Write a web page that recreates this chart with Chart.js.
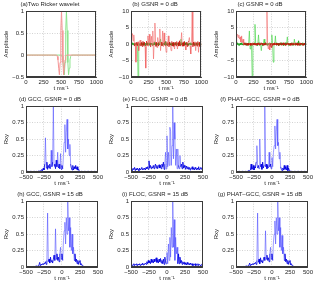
<!DOCTYPE html>
<html>
<head>
<meta charset="utf-8">
<script src="https://cdn.jsdelivr.net/npm/chart.js@4.4.0/dist/chart.umd.min.js"></script>
<style>
html, body { margin: 0; padding: 0; background: #fff; }
#fig { position: relative; width: 320px; height: 286px; overflow: hidden; }
#fig canvas { position: absolute; }
</style>
</head>
<body>
<div id="fig">
<canvas id="pa" width="105" height="95" style="left:0px;top:0px"></canvas>
<canvas id="pb" width="105" height="95" style="left:105px;top:0px"></canvas>
<canvas id="pc" width="105" height="95" style="left:210px;top:0px"></canvas>
<canvas id="pd" width="105" height="95" style="left:0px;top:95px"></canvas>
<canvas id="pe" width="105" height="95" style="left:105px;top:95px"></canvas>
<canvas id="pf" width="105" height="95" style="left:210px;top:95px"></canvas>
<canvas id="ph" width="105" height="95" style="left:0px;top:190px"></canvas>
<canvas id="pi" width="105" height="95" style="left:105px;top:190px"></canvas>
<canvas id="pg" width="105" height="95" style="left:210px;top:190px"></canvas>
</div>
<script>
"use strict";

// ---- tick values / labels
var timeTicks = [0, 250, 500, 750, 1000];
var timeTickLabels = ["0", "250", "500", "750", "1000"];
var lagTicks = [-500, -250, 0, 250, 500];
var lagTickLabels = ["\u2212500", "\u2212250", "0", "250", "500"];
var wavTicks = [-0.5, 0, 0.5, 1];
var wavTickLabels = ["\u22120.5", "0", "0.5", "1"];
var ampTicks = [-10, -5, 0, 5, 10];
var ampTickLabels = ["\u221210", "\u22125", "0", "5", "10"];
var rxyTicks = [0, 0.25, 0.5, 0.75, 1];
var rxyTickLabels = ["0", "0.25", "0.5", "0.75", "1"];

// ---- (a) two Ricker wavelets
var rickerRedT = [0, 435, 445, 455, 465, 475, 485, 495, 505, 515, 525, 535, 545, 555, 565, 575, 1000];
var rickerRedY = [0, 0, -0.03, -0.11, -0.30, -0.45, -0.17, 0.56, 1, 0.56, -0.17, -0.45, -0.30, -0.11, -0.03, 0, 0];
var rickerGreenT = [0, 505, 515, 525, 535, 545, 555, 565, 575, 585, 595, 605, 615, 625, 635, 645, 1000];
var rickerGreenY = [0, 0, -0.03, -0.11, -0.30, -0.45, -0.17, 0.56, 1, 0.56, -0.17, -0.45, -0.30, -0.11, -0.03, 0, 0];

// ---- (b), (c) noisy records, sampled every 10 ms from 0 to 1000
var noisyB_red = [
    0.5, 2.5, 3.2, 1.0, 2.8, -0.6, 0.4, -5.5, 0.6, -0.5,
    0.7, -2.0, 0.5, 1.2, -0.6, 0.5, -0.7, 0.8, -0.4, 0.6,
    -0.8, -7.3, 0.9, -0.5, 2.5, -0.6, 3.0, 0.5, -0.9, 2.4,
    -0.5, 4.0, -4.5, 0.8, 6.4, -0.7, 0.6, -1.0, 2.0, -0.6,
    0.7, 4.6, -2.0, 0.6, -0.5, 4.0, -0.8, 3.4, 0.5, -0.6,
    -2.5, 0.7, -0.5, 2.5, -0.8, 0.6, -0.4, -2.0, 0.8, -0.6,
    0.5, -0.7, -1.5, 0.6, -0.5, 0.8, -1.5, 0.5, -0.6, 1.0,
    -0.5, 0.6, 3.5, -0.7, 0.5, -0.6, 0.8, -0.5, -1.8, 0.6,
    -0.7, 0.5, 0.9, 2.0, -0.6, -3.0, 0.7, 10, -0.8, 0.6,
    -0.5, 0.7, -2.0, 0.5, -0.6, 0.8, -2.5, 0.6, -0.7, 0.5,
    -0.4
];
var noisyB_green = [
    0.2, -0.3, 0.4, -0.2, 0.3, -0.4, 0.2, -0.3, 0.3, -0.2,
    -10, 0.3, -0.4, 0.2, -0.3, 0.4, -0.2, 0.3, -0.3, 0.2,
    -0.4, 0.3, -0.2, 0.4, -0.3, 0.2, -0.3, 0.4, -0.2, 0.3,
    -0.4, 0.2, -0.3, 0.5, -0.2, 0.3, -0.4, 0.2, -0.3, 0.4,
    -0.2, 0.3, 1.5, -0.3, 0.2, -0.4, 0.3, -0.2, 0.4, 0.8,
    -0.3, 0.2, -0.4, 0.3, -0.2, 0.5, -0.3, 0.2, -0.4, 0.3,
    -0.2, 0.4, -0.3, 0.2, -0.3, 0.4, -0.2, 0.3, -0.4, 0.2,
    -0.3, 1.5, -0.2, 0.3, -0.4, 0.2, -0.3, 0.4, -0.2, 0.3,
    -0.3, 0.2, -0.4, 0.3, -0.2, 0.4, -0.3, 0.2, -0.3, 0.4,
    -0.2, 0.3, -0.4, 0.2, -0.3, 0.4, -0.2, 0.3, -0.3, 0.2,
    -0.2
];
var noisyC_red = [
    0.4, 2.5, 3.0, 2.0, 2.8, 1.5, 2.2, 0.6, 2.5, 0.4,
    1.5, -0.3, 0.3, -0.2, 0.4, -0.3, 0.2, -0.4, 0.3, -0.2,
    0.3, -0.4, 0.2, -0.3, 0.4, -0.2, 0.3, -0.3, 0.2, -0.4,
    0.3, -0.2, 0.4, -0.3, 0.2, -0.3, 0.4, -0.2, 0.3, -0.4,
    0.2, -0.3, 0.4, -0.2, 10, -0.3, -1.5, 0.3, -1.8, 0.2,
    -1.0, 0.3, -0.4, 0.2, -0.3, 0.4, -0.2, 0.3, -0.3, 0.2,
    -0.4, 0.3, -0.2, 0.4, -0.3, 0.2, -0.3, 0.4, -0.2, 0.3,
    -0.4, 0.2, -0.3, 0.4, -0.2, 0.3, -0.3, 0.2, -0.4, 0.3,
    -0.2, 0.4, -0.3, 0.2, -0.3, 0.4, -0.2, 0.3, -0.4, 0.2,
    -0.3, 0.4, -0.2, 0.3, -0.3, 0.2, -0.4, 0.3, -0.2, 0.4,
    -0.3
];
var noisyC_green = [
    0.3, -0.2, 0.4, -0.3, 0.2, -0.4, 0.3, -0.2, 0.4, -0.3,
    0.2, -0.3, 0.4, -0.2, 0.3, -0.4, 0.2, -0.3, 0.4, 4.0,
    -1.5, 0.3, -0.4, -10, 0.3, -0.2, 0.4, 6.0, -0.3, 0.2,
    -0.4, 0.3, 2.8, -0.2, 0.4, -0.3, -2.0, 0.2, -0.4, 0.3,
    1.5, -0.3, 0.4, -0.2, 0.3, -0.4, 0.2, -0.3, 0.4, -0.2,
    0.3, 2.8, -0.4, -5.5, 0.3, -0.2, 2.5, -0.3, 0.4, -0.2,
    0.3, -0.4, 0.2, -0.3, 0.4, -0.2, 0.3, -0.4, 0.2, -0.3,
    0.4, -0.2, 0.3, 2.2, -0.3, 0.2, -0.4, 0.3, -0.2, 0.4,
    -0.3, 0.2, -0.4, 1.5, -0.2, 0.3, -0.3, 0.4, -0.2, 1.0,
    -0.3, 0.2, -0.4, 0.3, -0.2, 0.4, -0.3, 0.2, -0.3, 0.4,
    -0.2
];

// ---- (d)-(g) cross-correlation, lag sampled every 10 ms from -500 to 500
var rxyGcc0 = [
    0.01, 0.005, 0.01, 0.005, 0.01, 0.005, 0.01, 0.005, 0.01, 0.005,
    0.01, 0.005, 0.01, 0.005, 0.01, 0.01, 0.005, 0.01, 0.02, 0.01,
    0.02, 0.01, 0.04, 0.02, 0.06, 0.03, 0.12, 0.52, 0.06, 0.15,
    0.04, 0.1, 0.06, 0.12, 0.05, 0.33, 0.08, 0.15, 1.0, 0.09,
    0.12, 0.05, 0.18, 0.08, 0.3, 0.06, 0.12, 0.05, 0.28, 0.04,
    0.1, 0.05, 0.25, 0.45, 0.72, 0.3, 0.6, 0.8, 0.35, 0.5,
    0.25, 0.42, 0.12, 0.06, 0.03, 0.1, 0.03, 0.08, 0.05, 0.1,
    0.04, 0.08, 0.03, 0.04, 0.01, 0.01, 0.005, 0.01, 0.005, 0.01,
    0.005, 0.01, 0.005, 0.01, 0.005, 0.01, 0.005, 0.01, 0.005, 0.01,
    0.005, 0.01, 0.005, 0.01, 0.005, 0.01, 0.005, 0.01, 0.005, 0.01,
    0.005
];
var rxyFloc0 = [
    0.03, 0.06, 0.02, 0.05, 0.04, 0.07, 0.02, 0.05, 0.03, 0.06,
    0.04, 0.02, 0.06, 0.03, 0.05, 0.07, 0.03, 0.05, 0.04, 0.06,
    0.03, 0.07, 0.05, 0.08, 0.04, 0.17, 0.06, 0.1, 0.05, 0.08,
    0.06, 0.1, 0.05, 0.09, 0.12, 0.06, 0.1, 0.05, 0.08, 0.11,
    0.06, 0.1, 0.05, 0.12, 0.08, 0.15, 0.04, 0.12, 0.3, 0.05,
    0.55, 0.08, 0.3, 0.1, 0.68, 0.62, 0.1, 0.4, 1.0, 0.2,
    0.75, 0.5, 0.1, 0.35, 0.05, 0.35, 0.1, 0.05, 0.25, 0.08,
    0.12, 0.05, 0.15, 0.06, 0.1, 0.07, 0.04, 0.09, 0.05, 0.08,
    0.04, 0.07, 0.03, 0.06, 0.05, 0.08, 0.04, 0.06, 0.03, 0.07,
    0.05, 0.03, 0.06, 0.04, 0.08, 0.03, 0.05, 0.07, 0.04, 0.06,
    0.05
];
var rxyPhat0 = [
    0.005, 0.01, 0.005, 0.01, 0.005, 0.01, 0.005, 0.01, 0.005, 0.01,
    0.005, 0.01, 0.005, 0.01, 0.005, 0.01, 0.01, 0.02, 0.01, 0.02,
    0.03, 0.12, 0.04, 0.05, 0.1, 0.03, 0.08, 0.06, 0.15, 0.4,
    0.06, 0.1, 0.05, 0.5, 0.08, 0.12, 0.04, 0.15, 0.06, 0.1,
    1.0, 0.08, 0.12, 0.05, 0.1, 0.06, 0.3, 0.08, 0.12, 0.05,
    0.22, 0.08, 0.3, 0.4, 0.7, 0.35, 0.62, 0.8, 0.4, 0.45,
    0.2, 0.3, 0.08, 0.04, 0.02, 0.06, 0.03, 0.1, 0.04, 0.08,
    0.03, 0.1, 0.02, 0.06, 0.02, 0.01, 0.005, 0.01, 0.005, 0.01,
    0.005, 0.01, 0.005, 0.01, 0.005, 0.01, 0.005, 0.01, 0.005, 0.01,
    0.005, 0.01, 0.005, 0.01, 0.005, 0.01, 0.005, 0.01, 0.005, 0.01,
    0.005
];
var rxyGcc15 = [
    0.002, 0.005, 0.002, 0.005, 0.002, 0.005, 0.002, 0.005, 0.002, 0.005,
    0.005, 0.01, 0.005, 0.01, 0.01, 0.02, 0.01, 0.02, 0.03, 0.07,
    0.02, 0.04, 0.03, 0.05, 0.04, 0.06, 0.05, 0.08, 0.04, 0.1,
    0.82, 0.08, 0.12, 0.06, 0.15, 0.08, 0.1, 0.06, 0.12, 0.18,
    0.1, 0.58, 0.12, 0.2, 0.1, 0.15, 0.08, 0.2, 0.3, 0.12,
    0.2, 0.1, 0.4, 0.55, 0.68, 0.35, 0.75, 0.5, 1.0, 0.55,
    0.75, 0.3, 0.6, 0.25, 0.5, 0.2, 0.3, 0.1, 0.2, 0.08,
    0.12, 0.05, 0.1, 0.04, 0.08, 0.1, 0.03, 0.05, 0.02, 0.01,
    0.005, 0.002, 0.005, 0.002, 0.005, 0.002, 0.005, 0.002, 0.005, 0.002,
    0.005, 0.002, 0.005, 0.002, 0.005, 0.002, 0.005, 0.002, 0.005, 0.002,
    0.002
];
var rxyFloc15 = [
    0.02, 0.04, 0.02, 0.03, 0.05, 0.02, 0.04, 0.03, 0.05, 0.02,
    0.04, 0.03, 0.05, 0.02, 0.04, 0.03, 0.06, 0.03, 0.05, 0.04,
    0.06, 0.04, 0.08, 0.05, 0.1, 0.06, 0.09, 0.05, 0.12, 0.07,
    0.1, 0.06, 0.12, 0.08, 0.1, 0.14, 0.07, 0.11, 0.06, 0.12,
    0.08, 0.13, 0.06, 0.1, 0.05, 0.12, 0.04, 0.15, 0.08, 0.05,
    0.22, 0.05, 0.35, 0.1, 0.45, 0.15, 0.6, 0.3, 1.0, 0.3,
    0.72, 0.1, 0.45, 0.2, 0.3, 0.05, 0.2, 0.05, 0.15, 0.06,
    0.1, 0.04, 0.08, 0.05, 0.07, 0.04, 0.06, 0.03, 0.07, 0.04,
    0.05, 0.03, 0.06, 0.04, 0.03, 0.05, 0.02, 0.04, 0.03, 0.05,
    0.02, 0.04, 0.03, 0.05, 0.02, 0.04, 0.03, 0.02, 0.04, 0.03,
    0.03
];
var rxyPhat15 = [
    0.002, 0.005, 0.002, 0.005, 0.002, 0.005, 0.002, 0.005, 0.002, 0.005,
    0.005, 0.01, 0.005, 0.01, 0.01, 0.02, 0.01, 0.02, 0.03, 0.06,
    0.02, 0.04, 0.03, 0.05, 0.04, 0.06, 0.05, 0.07, 0.04, 0.1,
    0.82, 0.07, 0.12, 0.05, 0.14, 0.08, 0.1, 0.06, 0.11, 0.15,
    0.1, 0.55, 0.12, 0.18, 0.1, 0.14, 0.08, 0.2, 0.3, 0.12,
    0.2, 0.1, 0.38, 0.5, 0.7, 0.35, 0.75, 0.5, 1.0, 0.55,
    0.75, 0.3, 0.6, 0.25, 0.48, 0.2, 0.3, 0.1, 0.2, 0.08,
    0.12, 0.05, 0.1, 0.04, 0.08, 0.1, 0.03, 0.05, 0.02, 0.01,
    0.005, 0.002, 0.005, 0.002, 0.005, 0.002, 0.005, 0.002, 0.005, 0.002,
    0.005, 0.002, 0.005, 0.002, 0.005, 0.002, 0.005, 0.002, 0.005, 0.002,
    0.002
];

var FONT = "'Liberation Sans', Arial, sans-serif";
var TXT = '#262626';

function toPoints(xs, ys) {
    var pts = [];
    for (var i = 0; i < ys.length; i++) pts.push({x: xs[i], y: ys[i]});
    return pts;
}

// sample positions (every 10 ms)
function sampleAxis(start, n) {
    var xs = [];
    for (var i = 0; i < n; i++) xs.push(start + 10 * i);
    return xs;
}

// darker where the trace stays inside the dense band, lighter for the spikes
function bandColor(limit, dark, light) {
    return function (ctx) {
        return (Math.abs(ctx.p0.parsed.y) <= limit && Math.abs(ctx.p1.parsed.y) <= limit) ? dark : light;
    };
}

var boxPlugin = {
    id: 'box',
    afterDraw: function (chart) {
        var a = chart.chartArea, ctx = chart.ctx;
        ctx.save();
        ctx.strokeStyle = '#3a3a3a';
        ctx.lineWidth = 1;
        ctx.strokeRect(Math.round(a.left) + 0.5, Math.round(a.top) + 0.5,
            Math.round(a.right - a.left) - 1, Math.round(a.bottom - a.top) - 1);
        ctx.restore();
    }
};

function axis(min, max, ticks, labels, title, isY) {
    return {
        type: 'linear',
        min: min,
        max: max,
        afterBuildTicks: function (scale) {
            scale.ticks = ticks.map(function (v) { return {value: v}; });
        },
        afterFit: function (scale) {
            if (isY) scale.width = 26;
            else scale.height = 18;
        },
        grid: {color: '#c8c8c8', lineWidth: 0.8, drawTicks: false},
        border: {display: true, color: '#3a3a3a', dash: [1, 1.5]},
        ticks: {
            autoSkip: false,
            maxRotation: 0,
            padding: 2,
            color: TXT,
            font: {family: FONT, size: 6},
            callback: function (v) {
                var k = ticks.indexOf(v);
                return k >= 0 ? labels[k] : '';
            }
        },
        title: {
            display: true,
            text: title,
            color: TXT,
            font: {family: FONT, size: 6},
            padding: isY ? {top: 3, bottom: 0} : {top: 0, bottom: 3}
        }
    };
}

function makePanel(id, title, datasets, xMin, xMax, xTicks, xLabels, yMin, yMax, yTicks, yLabels, yTitle) {
    return new Chart(document.getElementById(id), {
        type: 'line',
        data: {datasets: datasets},
        options: {
            responsive: false,
            animation: false,
            devicePixelRatio: 1,
            parsing: false,
            layout: {padding: {left: 0, right: 5, top: 0, bottom: 0}},
            elements: {point: {radius: 0}, line: {borderWidth: 1, tension: 0}},
            plugins: {
                legend: {display: false},
                tooltip: {enabled: false},
                title: {
                    display: true,
                    text: title,
                    color: TXT,
                    font: {family: FONT, size: 6, weight: 'normal'},
                    padding: {top: 1, bottom: 3}
                }
            },
            scales: {
                x: axis(xMin, xMax, xTicks, xLabels, 't ms\u207B\u00B9', false),
                y: axis(yMin, yMax, yTicks, yLabels, yTitle, true)
            }
        },
        plugins: [boxPlugin]
    });
}

var timeX = sampleAxis(0, 101);
var lagX = sampleAxis(-500, 101);

var RED_LIGHT = 'rgba(240,90,90,0.55)';
var RED_DARK = 'rgba(200,20,10,0.85)';
var GREEN_LIGHT = 'rgba(60,210,60,0.6)';
var GREEN_DARK = 'rgba(20,160,20,0.9)';
var BLUE_LIGHT = 'rgba(60,60,255,0.5)';
var BLUE_DARK = 'rgba(0,0,225,0.85)';

function noisySet(ys, light, dark) {
    return {
        data: toPoints(timeX, ys),
        borderColor: light,
        segment: {borderColor: bandColor(1.0, dark, light)}
    };
}

function rxySet(ys) {
    return {
        data: toPoints(lagX, ys),
        borderColor: BLUE_LIGHT,
        segment: {borderColor: bandColor(0.2, BLUE_DARK, BLUE_LIGHT)}
    };
}

makePanel('pa', '(a)Two Ricker wavelet', [
    {data: toPoints(rickerRedT, rickerRedY), borderColor: 'rgb(245,150,150)'},
    {data: toPoints(rickerGreenT, rickerGreenY), borderColor: 'rgb(140,228,140)'}
], 0, 1000, timeTicks, timeTickLabels, -0.5, 1, wavTicks, wavTickLabels, 'Amplitude');

makePanel('pb', '(b) GSNR = 0 dB', [
    noisySet(noisyB_red, RED_LIGHT, RED_DARK),
    noisySet(noisyB_green, GREEN_LIGHT, GREEN_DARK)
], 0, 1000, timeTicks, timeTickLabels, -10, 10, ampTicks, ampTickLabels, 'Amplitude');

makePanel('pc', '(c) GSNR = 0 dB', [
    noisySet(noisyC_red, RED_LIGHT, RED_DARK),
    noisySet(noisyC_green, GREEN_LIGHT, GREEN_DARK)
], 0, 1000, timeTicks, timeTickLabels, -10, 10, ampTicks, ampTickLabels, 'Amplitude');

makePanel('pd', '(d) GCC, GSNR = 0 dB', [rxySet(rxyGcc0)],
    -500, 500, lagTicks, lagTickLabels, 0, 1, rxyTicks, rxyTickLabels, 'Rxy');
makePanel('pe', '(e) FLOC, GSNR = 0 dB', [rxySet(rxyFloc0)],
    -500, 500, lagTicks, lagTickLabels, 0, 1, rxyTicks, rxyTickLabels, 'Rxy');
makePanel('pf', '(f) PHAT\u2013GCC, GSNR = 0 dB', [rxySet(rxyPhat0)],
    -500, 500, lagTicks, lagTickLabels, 0, 1, rxyTicks, rxyTickLabels, 'Rxy');
makePanel('ph', '(h) GCC, GSNR = 15 dB', [rxySet(rxyGcc15)],
    -500, 500, lagTicks, lagTickLabels, 0, 1, rxyTicks, rxyTickLabels, 'Rxy');
makePanel('pi', '(i) FLOC, GSNR = 15 dB', [rxySet(rxyFloc15)],
    -500, 500, lagTicks, lagTickLabels, 0, 1, rxyTicks, rxyTickLabels, 'Rxy');
makePanel('pg', '(g) PHAT\u2013GCC, GSNR = 15 dB', [rxySet(rxyPhat15)],
    -500, 500, lagTicks, lagTickLabels, 0, 1, rxyTicks, rxyTickLabels, 'Rxy');
</script>
</body>
</html>
